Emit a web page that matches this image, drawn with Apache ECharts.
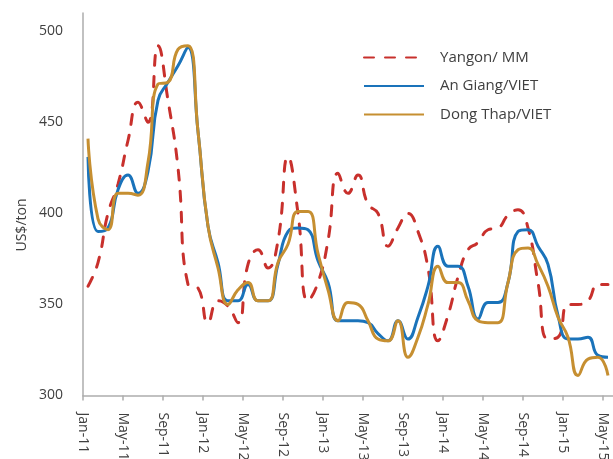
<!DOCTYPE html>
<html>
<head>
<meta charset="utf-8">
<script src="https://cdn.jsdelivr.net/npm/echarts@6/dist/echarts.min.js"></script>
<style>
  html, body { margin: 0; padding: 0; background: #fff; }
  #main { width: 613px; height: 459px; }
</style>
</head>
<body>
<div id="main"></div>
<script>
// month labels, one per data point (monthly, Jan-11 .. May-15)
const months = [
  'Jan-11', 'Feb-11', 'Mar-11', 'Apr-11', 'May-11', 'Jun-11', 'Jul-11', 'Aug-11', 'Sep-11', 'Oct-11', 'Nov-11', 'Dec-11',
  'Jan-12', 'Feb-12', 'Mar-12', 'Apr-12', 'May-12', 'Jun-12', 'Jul-12', 'Aug-12', 'Sep-12', 'Oct-12', 'Nov-12', 'Dec-12',
  'Jan-13', 'Feb-13', 'Mar-13', 'Apr-13', 'May-13', 'Jun-13', 'Jul-13', 'Aug-13', 'Sep-13', 'Oct-13', 'Nov-13', 'Dec-13',
  'Jan-14', 'Feb-14', 'Mar-14', 'Apr-14', 'May-14', 'Jun-14', 'Jul-14', 'Aug-14', 'Sep-14', 'Oct-14', 'Nov-14', 'Dec-14',
  'Jan-15', 'Feb-15', 'Mar-15', 'Apr-15', 'May-15'
];

// US$/ton
const yangon = [
  360, 373, 400, 416, 440, 461, 450, 492, 462, 425, 361, 359,
  340, 352, 349, 340, 372, 380, 370, 385, 431, 400, 352, 362,
  385, 422, 411, 421, 405, 400, 382, 392, 400, 390, 370, 330,
  344, 365, 380, 384, 391, 392, 399, 402, 392, 362, 331, 332,
  350, 350, 352, 361, 361
];
const anGiang = [
  431, 390, 392, 413, 421, 411, 423, 462, 472, 481, 491, 445,
  393, 373, 352, 352, 361, 352, 352, 372, 390, 392, 391, 374,
  362, 341, 341, 341, 340, 334, 330, 341, 331, 343, 360, 382,
  371, 371, 360, 342, 351, 351, 362, 390, 391, 382, 372, 344,
  331, 331, 332, 322, 321
];
const dongThap = [
  441, 397, 391, 411, 411, 410, 428, 471, 472, 490, 492, 445,
  393, 370, 350, 358, 362, 352, 352, 373, 383, 401, 401, 378,
  358, 341, 351, 350, 341, 331, 330, 341, 321, 332, 350, 371,
  362, 362, 352, 341, 340, 340, 362, 380, 381, 372, 360, 343,
  332, 311, 320, 321, 311
];

const seriesNames = ['Yangon/ MM', 'An Giang/VIET', 'Dong Thap/VIET'];
const yTicks = [300, 350, 400, 450, 500];

// values are monthly averages, placed mid-month on a month-index axis
function toPoints(values) {
  return values.map((v, i) => [i + 0.5, v]);
}

const chart = echarts.init(document.getElementById('main'));
const font = '"Open Sans", "Noto Sans", sans-serif';
const axisGray = '#ADADAD';
const textGray = '#404040';

chart.setOption({
  animation: false,
  grid: { left: 83, right: 0, top: 13, bottom: 63.5, outerBoundsMode: 'none' },
  legend: {
    orient: 'vertical',
    left: 358,
    top: 45,
    itemWidth: 60,
    itemHeight: 14,
    itemGap: 13.5,
    itemStyle: { opacity: 0 },
    textStyle: { fontFamily: font, fontSize: 15, color: textGray, lineHeight: 14, padding: [0, 0, 0, 11] },
    data: seriesNames
  },
  graphic: [{
    type: 'text',
    x: 22,
    y: 225,
    rotation: Math.PI / 2,
    style: {
      text: 'US$/ton',
      fontFamily: font,
      fontSize: 14,
      fill: textGray,
      align: 'center',
      verticalAlign: 'middle'
    }
  }],
  xAxis: {
    type: 'value',
    min: 0,
    max: months.length,
    interval: 4,
    splitLine: { show: false },
    axisLine: { lineStyle: { color: axisGray, width: 1.5 } },
    axisTick: { show: true, length: 5, lineStyle: { color: axisGray, width: 1.5 } },
    axisLabel: {
      rotate: -90,
      margin: 17,
      showMaxLabel: false,
      fontFamily: font,
      fontSize: 14,
      color: textGray,
      formatter: v => months[v] || ''
    }
  },
  yAxis: {
    type: 'value',
    min: yTicks[0],
    max: 510,
    interval: 50,
    splitLine: { show: false },
    axisLine: { show: true, lineStyle: { color: axisGray, width: 1.5 } },
    axisTick: { show: false },
    axisLabel: {
      margin: 20,
      showMaxLabel: false,
      fontFamily: font,
      fontSize: 14,
      color: textGray,
      formatter: v => (yTicks.indexOf(v) >= 0 ? String(v) : '')
    }
  },
  series: [
    {
      name: seriesNames[0],
      type: 'line',
      smooth: 0.5,
      symbol: 'none',
      data: toPoints(yangon),
      itemStyle: { color: '#C8302C' },
      lineStyle: { color: '#C8302C', width: 3, type: [10, 11], cap: 'round' }
    },
    {
      name: seriesNames[1],
      type: 'line',
      smooth: 0.5,
      symbol: 'none',
      data: toPoints(anGiang),
      itemStyle: { color: '#1A73BA' },
      lineStyle: { color: '#1A73BA', width: 3 }
    },
    {
      name: seriesNames[2],
      type: 'line',
      smooth: 0.5,
      symbol: 'none',
      data: toPoints(dongThap),
      itemStyle: { color: '#C68F31' },
      lineStyle: { color: '#C68F31', width: 3 }
    }
  ]
});
</script>
</body>
</html>
